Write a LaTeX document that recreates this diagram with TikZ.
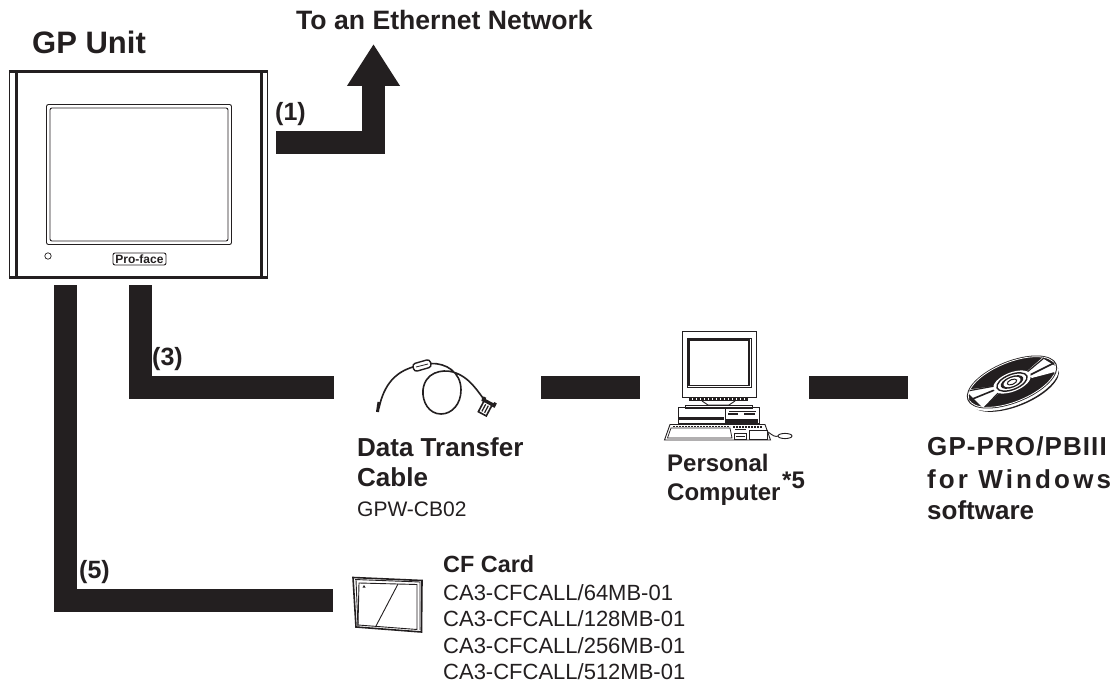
\documentclass[tikz,border=0pt]{standalone}
\usepackage{fontspec}
\setmainfont{Liberation Sans}
\usetikzlibrary{arrows.meta}
\definecolor{ink}{HTML}{231F20}
\newcommand{\fs}[1]{\fontsize{#1}{#1}\selectfont}
\tikzset{
  bar/.style={draw=ink,line width=23pt,line cap=butt,line join=miter},
  lab/.style={anchor=base west,inner sep=0pt,text=ink},
  hd/.style={lab,font=\bfseries\fs{26}},
  sm/.style={lab,font=\fs{21}},
  nm/.style={lab,font=\bfseries\fs{24}},
  num/.style={lab,font=\bfseries\fs{25}},
  thin line/.style={draw=ink,line width=0.9pt},
  med line/.style={draw=ink,line width=1.6pt},
}
\begin{document}
\begin{tikzpicture}[x=1pt,y=-1pt]
\useasboundingbox (0,0) rectangle (1120,682);
\fill[white] (0,0) rectangle (1120,682);

% ---- labels
\node[lab,font=\bfseries\fs{26.6}] (ethernet) at (296,29.5) {To an Ethernet Network};
\node[lab,font=\bfseries\fs{31}] (gpunit) at (32,54) {GP Unit};
\node[num] (n1) at (275,121) {(1)};
\node[num] (n3) at (152,365) {(3)};
\node[num] (n5) at (79,578) {(5)};
\node[hd] (dtc1) at (357,456) {Data Transfer};
\node[hd] (dtc2) at (357,486) {Cable};
\node[sm] (dtc3) at (357,516) {GPW-CB02};
\node[nm] (pc1) at (667,471) {Personal};
\node[nm] (pc2) at (667,500) {Computer};
\node[lab,font=\bfseries\fs{24}] (pc3) at (782,488) {*5};
\node[hd] (sw1) at (927,455) {\addfontfeatures{LetterSpace=4.2}GP-PRO/PBIII};
\node[hd] (sw2) at (927,488) {\addfontfeatures{LetterSpace=12}for Windows};
\node[hd] (sw3) at (927,519) {software};
\node[lab,font=\bfseries\fs{23.4}] (cf0) at (443,572) {CF Card};
\node[sm,font=\fs{22}] (cf1) at (443,600) {CA3-CFCALL/64MB-01};
\node[sm,font=\fs{22}] (cf2) at (443,626) {CA3-CFCALL/128MB-01};
\node[sm,font=\fs{22}] (cf3) at (443,653) {CA3-CFCALL/256MB-01};
\node[sm,font=\fs{22}] (cf4) at (443,679) {CA3-CFCALL/512MB-01};

% ---- connectors
\coordinate (a1) at (276,142.5); \coordinate (a2) at (373.5,142.5); \coordinate (a3) at (373.5,44);
\coordinate (b1) at (140.5,285); \coordinate (b2) at (140.5,387.5); \coordinate (b3) at (334,387.5);
\coordinate (c1) at (65,285);  \coordinate (c2) at (65,600.5);  \coordinate (c3) at (333,600.5);
\coordinate (d1) at (541,387.5); \coordinate (d2) at (640,387.5);
\coordinate (e1) at (809,387.5); \coordinate (e2) at (908,387.5);
\draw[bar,-{Triangle[width=50pt,length=42pt]}] (a1) -- (a2) -- (a3);
\draw[bar] (b1) -- (b2) -- (b3);
\draw[bar] (c1) -- (c2) -- (c3);
\draw[bar] (d1) -- (d2);
\draw[bar] (e1) -- (e2);

% ---- GP unit
\fill[white] (10,71) rectangle (268,278);
\draw[draw=ink,line width=1.2pt] (9.6,71) -- (9.6,278) (267.6,71) -- (267.6,278);
\draw[draw=ink,line width=2.8pt] (8.8,71.4) -- (268.4,71.4);
\draw[draw=ink,line width=2.4pt] (8.8,277.4) -- (268.4,277.4);
\draw[draw=ink,line width=2.2pt] (16.5,71) -- (16.5,278);
\draw[draw=ink,line width=3.6pt] (261.5,71) -- (261.5,278);
\draw[thin line,rounded corners=2pt] (46.5,104.5) rectangle (231.5,244.5);
\draw[thin line,rounded corners=2pt] (50,108) rectangle (228,241);
\draw[draw=ink,line width=0.7pt] (48,256) circle (3.2);
\node[draw=ink,line width=0.9pt,rounded corners=2pt,inner sep=0pt,minimum width=53pt,minimum height=12pt,
  font=\bfseries\fs{12},text=ink] (logo) at (139.5,259) {Pro-face};

% ---- cable
\draw[med line] (379,408) .. controls (384,384) and (396,372) .. (413,367);
\draw[med line] (431,363.5) .. controls (446,363) and (461,372) .. (461,390)
  .. controls (461,404) and (452,414) .. (441,414)
  .. controls (429,414) and (422,402) .. (423,390)
  .. controls (425,372) and (442,369) .. (453,372)
  .. controls (470,377) and (478,392) .. (486,402);
\draw[draw=ink,line width=1.4pt,fill=white,rounded corners=3pt,rotate around={16:(422,365.5)}] (413,361.5) rectangle (431,369.5);
\draw[draw=ink,line width=0.8pt] (416,367) -- (428,364);
\draw[draw=ink,line width=3pt] (377.5,412) -- (379,402);
\begin{scope}[rotate around={-28:(487,405)}]
  \draw[draw=ink,line width=1.6pt,fill=white] (482.5,403) rectangle (491.5,415);
  \draw[draw=ink,line width=2.2pt] (479.5,401.5) -- (494.5,401.5);
  \draw[draw=ink,line width=1.2pt] (485.5,405) -- (485.5,413) (488.5,405) -- (488.5,413);
  \fill[ink] (480,399) rectangle (483,404) (492,399) rectangle (495,404);
\end{scope}

% ---- computer
\draw[thin line,fill=white] (682,331) rectangle (756,397);
\draw[thin line] (687,338.5) rectangle (751,387);
\draw[draw=ink,line width=1.6pt] (689,340) rectangle (749,385.5);
\fill[ink] (689,397) rectangle (748,401);
\draw[white,line width=2.2pt,dash pattern=on 1pt off 3pt] (692,399) -- (746,399);
\draw[thin line] (702,401) -- (708,405) -- (729,405) -- (735,401);
\draw[thin line,fill=white] (685,405) rectangle (752,408);
\draw[thin line] (678.5,407.5) rectangle (759,423);
\draw[thin line] (725,408) -- (725,423);
\fill[ink] (679,417) rectangle (724,420);
\draw[thin line] (729,411) -- (756,411);
\fill[ink] (726,419) rectangle (758,423);
\fill[ink] (728,413) rectangle (738,415);
\fill[ink] (744,413) rectangle (755,415);
\draw[thin line,fill=white] (670,424.5) -- (765,424.5) -- (770.5,440) -- (664.5,440) -- cycle;
\draw[draw=ink,line width=1.8pt,dash pattern=on 2pt off 1pt] (673,426.5) -- (730,426.5);
\draw[draw=ink,line width=1.6pt,dash pattern=on 2pt off 1pt] (733,427) -- (762,427);
\draw[draw=ink,line width=0.7pt] (667.5,438) -- (671,428) -- (730,428) -- (732,438) -- cycle;
\draw[draw=ink,line width=0.7pt] (734,433) rectangle (746,439);
\draw[draw=ink,line width=0.7pt] (749,430) rectangle (767,439);
\draw[draw=ink,line width=0.7pt] (735,429) -- (746,429) (736,436) -- (745,436);
\draw[thin line] (768,432) .. controls (774,436) and (774,437) .. (779,436);
\draw[thin line,fill=white] (785,436) ellipse (7 and 2.6);

% ---- disc
\begin{scope}[shift={(1012,382)},rotate=22]
  \fill[ink] (1,5) circle[x radius=47,y radius=20];
  \fill[white] (0,2) circle[x radius=49,y radius=21.5];
  \fill[ink] (0,0) circle[x radius=48,y radius=21];
  \draw[white,line width=0.8pt] (0,0) circle[x radius=46.5,y radius=19.8];
\end{scope}
\begin{scope}
  \path[clip,shift={(1012,382)},rotate=22] (0,0) circle[x radius=46.5,y radius=19.8];
  \fill[white] (1025,373) -- (1042,358) -- (1062,370) -- (1032,378) -- cycle;
  \fill[white] (996,386) -- (965,390) -- (983,408) -- (999,393) -- cycle;
  \draw[ink,line width=1.6pt] (1028,376) -- (1060,360);
  \draw[ink,line width=1.2pt] (1031,379) -- (1062,372);
  \draw[ink,line width=1.2pt] (1026,373) -- (1044,358);
  \draw[ink,line width=1.6pt] (997,389) -- (965,402);
  \draw[ink,line width=1.2pt] (999,392) -- (982,410);
  \draw[ink,line width=1.2pt] (995,386) -- (962,392);
\end{scope}
\begin{scope}[shift={(1012,382)},rotate=22]
  \fill[white] (0,0) circle[x radius=20,y radius=9.5];
  \draw[ink,line width=1.4pt] (0,0) circle[x radius=16,y radius=7.5];
  \fill[ink] (0,0) circle[x radius=12,y radius=5.6];
  \fill[white] (0,0) circle[x radius=9,y radius=4.2];
  \draw[ink,line width=1pt] (0,0) circle[x radius=5,y radius=2.4];
\end{scope}

% ---- CF card
\draw[med line,fill=white] (353,577.5) -- (422,580.5) -- (421.5,632) -- (356,627) -- cycle;
\draw[thin line] (355,579.5) -- (420,582) -- (420,630);
\draw[thin line] (356,580) -- (358,627);
\draw[thin line] (359,583) -- (417,584.5) -- (417,629.5) -- (358,625) -- cycle;
\draw[thin line] (398,584) -- (376,626);
\fill[ink] (362.5,587.5) -- (364,585) -- (365.5,587.5) -- cycle;
\end{tikzpicture}
\end{document}
